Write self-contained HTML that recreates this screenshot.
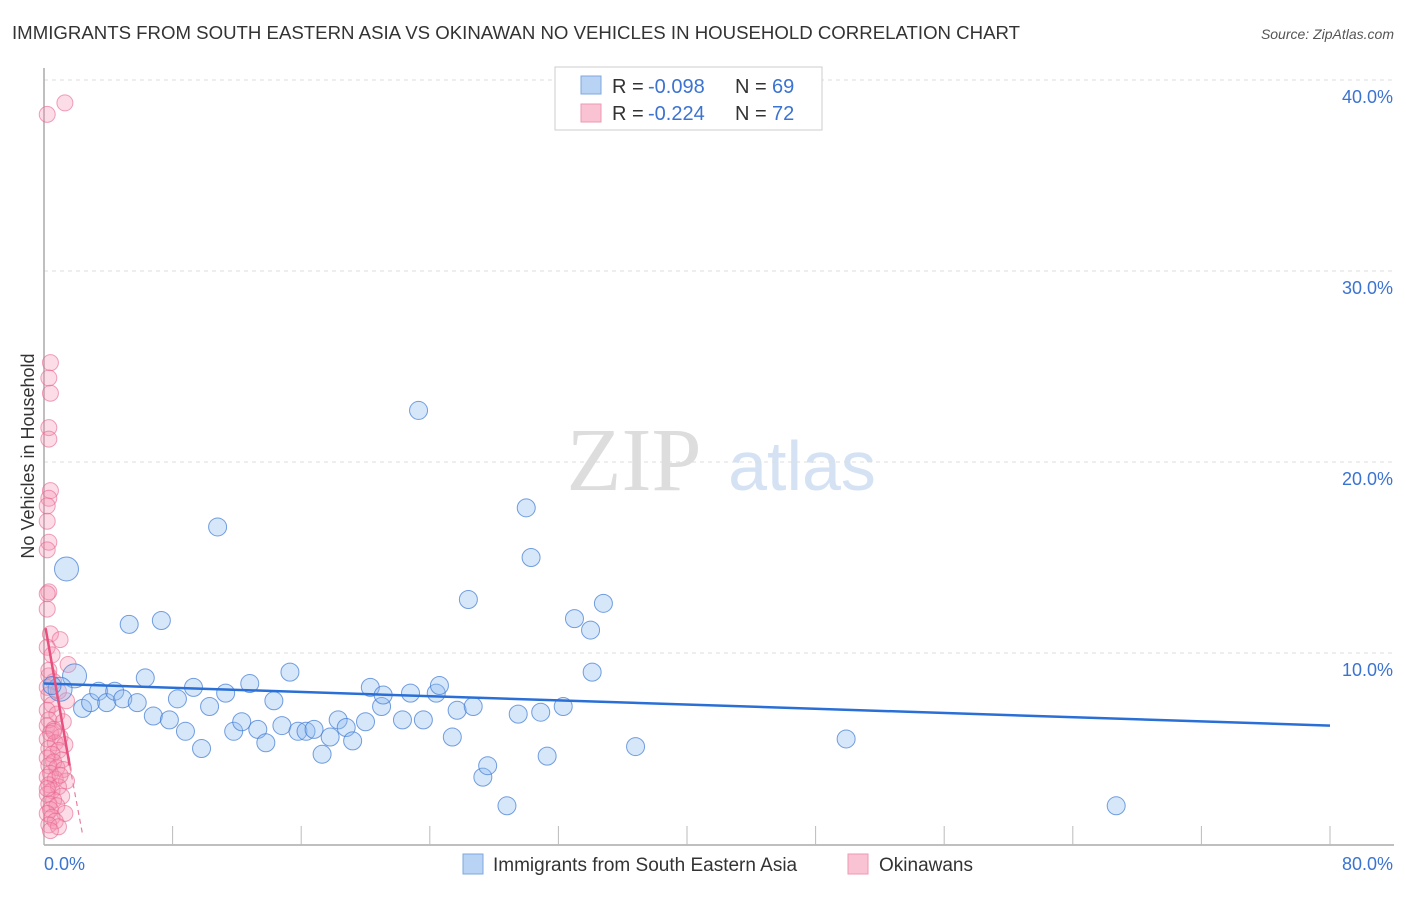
<!DOCTYPE html>
<html><head><meta charset="utf-8"><style>
body{margin:0;background:#fff;font-family:"Liberation Sans",sans-serif}
svg text{font-family:"Liberation Sans",sans-serif}
</style></head><body>
<svg id="c" width="1406" height="892">
<text x="12" y="39" font-size="18" fill="#333" textLength="1008" lengthAdjust="spacingAndGlyphs">IMMIGRANTS FROM SOUTH EASTERN ASIA VS OKINAWAN NO VEHICLES IN HOUSEHOLD CORRELATION CHART</text>
<text x="1394" y="39" font-size="14" fill="#555" font-style="italic" text-anchor="end">Source: ZipAtlas.com</text>
<text x="634" y="490" font-size="90" fill="#ddd" text-anchor="middle" style="font-family:'Liberation Serif',serif">ZIP</text>
<text x="802" y="490" font-size="70" fill="#d4e2f4" text-anchor="middle">atlas</text>
<text transform="translate(34,456) rotate(-90)" font-size="18" fill="#333" text-anchor="middle">No Vehicles in Household</text>
<g id="grid"></g><g id="marks"></g>
<g>
<rect x="555" y="67" width="267" height="63" fill="#fff" stroke="#ccc"/>
<rect x="581" y="76" width="20" height="18" fill="#b9d3f5" stroke="#7ea7de"/>
<rect x="581" y="104" width="20" height="18" fill="#f9c3d3" stroke="#ee9ab3"/>
<text x="612" y="93" font-size="20" fill="#333">R =</text>
<text x="648" y="93" font-size="20" fill="#3b73d1">-0.098</text>
<text x="735" y="93" font-size="20" fill="#333">N =</text>
<text x="772" y="93" font-size="20" fill="#3b73d1">69</text>
<text x="612" y="120" font-size="20" fill="#333">R =</text>
<text x="648" y="120" font-size="20" fill="#3b73d1">-0.224</text>
<text x="735" y="120" font-size="20" fill="#333">N =</text>
<text x="772" y="120" font-size="20" fill="#3b73d1">72</text>
</g>
<g>
<rect x="463" y="854" width="20" height="20" fill="#b9d3f5" stroke="#7ea7de"/>
<text x="493" y="871" font-size="19" fill="#333">Immigrants from South Eastern Asia</text>
<rect x="848" y="854" width="20" height="20" fill="#f9c3d3" stroke="#ee9ab3"/>
<text x="879" y="871" font-size="19" fill="#333">Okinawans</text>
</g>
</svg>
<script>
const xTicks=[0,8,16,24,32,40,48,56,64,72,80];
const yTicks=[10,20,30,40];
const blueX=[1.4,1.9,1.0,2.4,2.9,3.4,3.9,4.4,4.9,5.3,5.8,6.3,6.8,7.3,7.8,8.3,8.8,9.3,9.8,10.3,10.8,11.3,11.8,12.3,12.8,13.3,13.8,14.3,14.8,15.3,15.8,16.3,16.8,17.3,17.8,18.3,18.8,19.2,20.0,20.3,21.0,21.1,22.3,22.8,23.3,23.6,24.4,24.6,25.4,25.7,26.4,26.7,27.3,27.6,28.8,29.5,30.0,30.3,30.9,31.3,32.3,33.0,34.0,34.1,34.8,36.8,49.9,66.7,0.5];
const blueY=[14.4,8.8,8.1,7.1,7.4,8.0,7.4,8.0,7.6,11.5,7.4,8.7,6.7,11.7,6.5,7.6,5.9,8.2,5.0,7.2,16.6,7.9,5.9,6.4,8.4,6.0,5.3,7.5,6.2,9.0,5.9,5.9,6.0,4.7,5.6,6.5,6.1,5.4,6.4,8.2,7.2,7.8,6.5,7.9,22.7,6.5,7.9,8.3,5.6,7.0,12.8,7.2,3.5,4.1,2.0,6.8,17.6,15.0,6.9,4.6,7.2,11.8,11.2,9.0,12.6,5.1,5.5,2.0,8.3];
const blueR=[12,12,12];
const pinkX=[0.2,1.3,0.4,0.3,0.4,0.3,0.3,0.4,0.3,0.2,0.2,0.3,0.2,0.3,0.2,0.2,0.4,1.0,0.2,0.5,1.5,0.3,0.6,0.2,0.9,0.3,1.4,0.5,0.2,0.8,0.3,1.2,0.2,0.6,0.4,1.0,0.2,0.7,1.3,0.3,0.9,0.5,0.2,1.1,0.6,0.3,0.8,1.2,0.4,0.2,0.7,1.4,0.3,0.9,0.5,0.2,1.1,0.6,0.3,0.8,0.4,0.2,1.3,0.5,0.7,0.3,0.9,0.4,0.2,1.0,0.6,0.3];
const pinkY=[38.2,38.8,25.2,24.4,23.6,21.8,21.2,18.5,18.1,17.7,16.9,15.8,15.4,13.2,13.1,12.3,11.0,10.7,10.3,9.9,9.4,8.8,8.5,8.2,8.0,7.8,7.5,7.3,7.0,6.8,6.5,6.4,6.2,6.0,5.8,5.6,5.5,5.3,5.2,5.0,4.9,4.7,4.5,4.4,4.3,4.1,4.0,3.9,3.7,3.5,3.4,3.3,3.1,3.0,2.8,2.6,2.5,2.3,2.1,2.0,1.8,1.6,1.6,1.4,1.2,1.0,0.9,0.7,2.9,3.6,5.9,9.1];
const blueLine=[[0,8.4],[80,6.2]];
const pinkLine=[[0.1,11.3],[1.6,4.1]];
const pinkDash=[[1.6,4.1],[2.4,0.5]];
const NS='http://www.w3.org/2000/svg';
const sx=v=>44+v/80*1286, sy=v=>844-v*19.1;
function mk(t,a,p){const e=document.createElementNS(NS,t);for(const k in a)e.setAttribute(k,a[k]);p.appendChild(e);return e;}
const g=document.getElementById('grid'),m=document.getElementById('marks');
yTicks.forEach(t=>{
 const l=mk('line',{x1:44,x2:1394,y1:sy(t),y2:sy(t),stroke:'#ddd','stroke-dasharray':'4,4'},g);
 
 
 const tx=mk('text',{x:1393,y:sy(t)+23,'font-size':18,fill:'#3b73d1','text-anchor':'end'},g);tx.textContent=t.toFixed(1)+'%';
 
 
});
const ax=mk('line',{x1:44,x2:1394,y1:845,y2:845,stroke:'#aaa','stroke-width':1.5},g);


const ay=mk('line',{x1:44,x2:44,y1:68,y2:845,stroke:'#aaa','stroke-width':1.5},g);


xTicks.forEach(t=>{
 const l=mk('line',{x1:sx(t),x2:sx(t),y1:826,y2:845,stroke:'#bbb'},g);
 
 
});
[[0,'start'],[80,'end']].forEach(([t,a])=>{
 const tx=mk('text',{x:t==0?44:1393,y:870,'font-size':18,fill:'#3b73d1','text-anchor':a},g);tx.textContent=t.toFixed(1)+'%';
 
 
});
pinkX.forEach((x,i)=>{
 const c=mk('circle',{cx:sx(x),cy:sy(pinkY[i]),r:8,fill:'rgba(244,143,177,0.3)',stroke:'rgba(232,100,140,0.6)'},m);
 
 
});
blueX.forEach((x,i)=>{
 const c=mk('circle',{cx:sx(x),cy:sy(blueY[i]),r:blueR[i]||9,fill:'rgba(140,185,240,0.35)',stroke:'rgba(60,120,210,0.7)'},m);
 
 
});
const bl=mk('line',{x1:sx(blueLine[0][0]),y1:sy(blueLine[0][1]),x2:sx(blueLine[1][0]),y2:sy(blueLine[1][1]),stroke:'#2a6fd6','stroke-width':2.5},m);


const pl=mk('line',{x1:sx(pinkLine[0][0]),y1:sy(pinkLine[0][1]),x2:sx(pinkLine[1][0]),y2:sy(pinkLine[1][1]),stroke:'#e8507f','stroke-width':2.5},m);


const pd=mk('line',{x1:sx(pinkDash[0][0]),y1:sy(pinkDash[0][1]),x2:sx(pinkDash[1][0]),y2:sy(pinkDash[1][1]),stroke:'#e8809f','stroke-width':1.2,'stroke-dasharray':'5,4'},m);


</script>
</body></html>
